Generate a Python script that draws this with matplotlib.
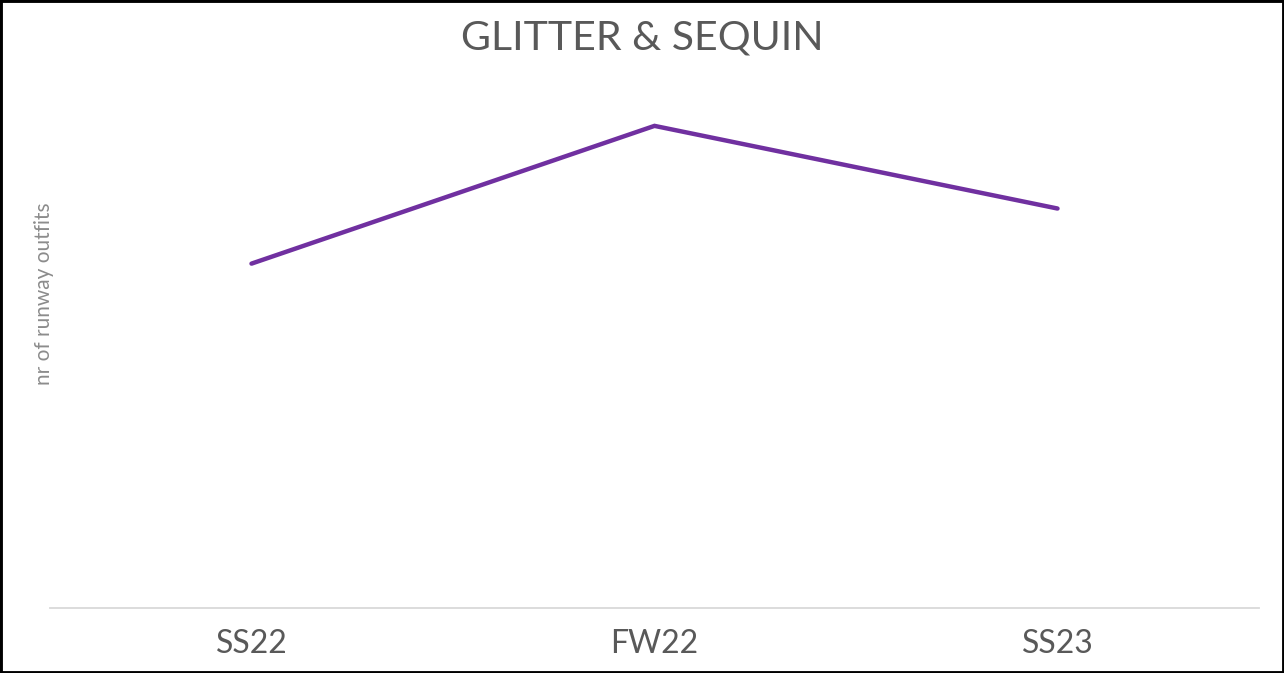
import matplotlib
matplotlib.use("Agg")
import matplotlib.pyplot as plt
from matplotlib.patches import Rectangle

seasons = ["SS22", "FW22", "SS23"]
outfits = [50, 70, 58]

plt.rcParams["font.family"] = ["Lato", "DejaVu Sans"]

fig = plt.figure(figsize=(12.84, 6.73), dpi=100)
ax = fig.add_axes([50 / 1284, 65 / 673, 1209 / 1284, (608 - 57) / 673])

x = list(range(len(seasons)))
ax.plot(x, outfits, color="#7030A0", lw=3.2, solid_capstyle="round", solid_joinstyle="miter")
ax.set_xlim(-0.5, len(seasons) - 0.5)
ax.set_ylim(0, 80)
ax.set_xticks(x)
ax.set_xticklabels(seasons, fontsize=23, color="#595959")
ax.tick_params(axis="x", length=0, pad=15)
ax.set_yticks([])
for side in ["top", "right", "left"]:
    ax.spines[side].set_visible(False)
ax.spines["bottom"].set_color("#d9d9d9")
ax.spines["bottom"].set_linewidth(1.3)

fig.text(44 / 1284, 1 - 294 / 673, "nr of runway outfits", rotation=90, fontsize=15,
         color="#8c8c8c", ha="center", va="center")
fig.text(642 / 1284, 1 - 38 / 673, "GLITTER & SEQUIN", fontsize=29.5, color="#595959",
         ha="center", va="center")

fig.patches.append(Rectangle((0, 0), 1, 1, transform=fig.transFigure, fill=False,
                             edgecolor="black", lw=3.5))
fig.savefig("out.png", dpi=100)
